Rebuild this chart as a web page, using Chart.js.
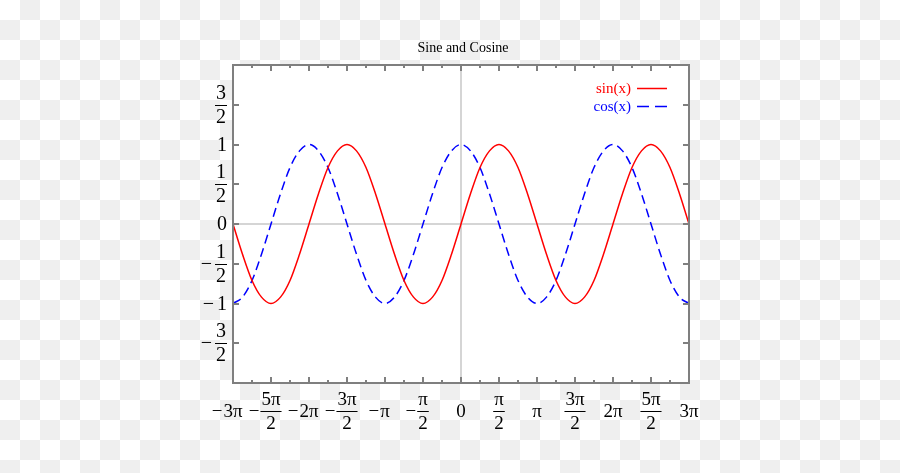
<!DOCTYPE html>
<html>
<head>
<meta charset="utf-8">
<script src="https://cdn.jsdelivr.net/npm/chart.js@4.4.1/dist/chart.umd.min.js"></script>
<style>
html,body{margin:0;padding:0;}
body{width:900px;height:473px;overflow:hidden;background:repeating-conic-gradient(#efefef 0 25%, #ffffff 0 50%) 0 0/40px 40px;}
#wrap{position:relative;width:900px;height:473px;}
canvas{display:block;}
</style>
</head>
<body>
<div id="wrap"><canvas id="c" width="900" height="473"></canvas></div>
<script>
// x positions in multiples of pi
const xPi = [-3,-2.875,-2.75,-2.625,-2.5,-2.375,-2.25,-2.125,-2,-1.875,-1.75,-1.625,-1.5,-1.375,-1.25,-1.125,-1,-0.875,-0.75,-0.625,-0.5,-0.375,-0.25,-0.125,0,0.125,0.25,0.375,0.5,0.625,0.75,0.875,1,1.125,1.25,1.375,1.5,1.625,1.75,1.875,2,2.125,2.25,2.375,2.5,2.625,2.75,2.875,3];
const sinValues = [0,-0.38,-0.71,-0.92,-1,-0.92,-0.71,-0.38,0,0.38,0.71,0.92,1,0.92,0.71,0.38,0,-0.38,-0.71,-0.92,-1,-0.92,-0.71,-0.38,0,0.38,0.71,0.92,1,0.92,0.71,0.38,0,-0.38,-0.71,-0.92,-1,-0.92,-0.71,-0.38,0,0.38,0.71,0.92,1,0.92,0.71,0.38,0];
const cosValues = [-1,-0.92,-0.71,-0.38,0,0.38,0.71,0.92,1,0.92,0.71,0.38,0,-0.38,-0.71,-0.92,-1,-0.92,-0.71,-0.38,0,0.38,0.71,0.92,1,0.92,0.71,0.38,0,-0.38,-0.71,-0.92,-1,-0.92,-0.71,-0.38,0,0.38,0.71,0.92,1,0.92,0.71,0.38,0,-0.38,-0.71,-0.92,-1];
const seriesNames = ['sin(x)','cos(x)'];

const xTickValues = [-3,-2.75,-2.5,-2.25,-2,-1.75,-1.5,-1.25,-1,-0.75,-0.5,-0.25,0,0.25,0.5,0.75,1,1.25,1.5,1.75,2,2.25,2.5,2.75,3];
const xLabelValues = [-3,-2.5,-2,-1.5,-1,-0.5,0,0.5,1,1.5,2,2.5,3];
const xLabels = ['−3π','−5π/2','−2π','−3π/2','−π','−π/2','0','π/2','π','3π/2','2π','5π/2','3π'];
const yTickValues = [-1.5,-1,-0.5,0,0.5,1,1.5];
const yLabels = ['−3/2','−1','−1/2','0','1/2','1','3/2'];
const chartTitle = 'Sine and Cosine';

const SERIF = '"Liberation Serif", "DejaVu Serif", serif';

function drawLabel(ctx, text, px, py, mode, fs, gap) {
  let sign = '';
  let body = text;
  if (body.startsWith('−')) { sign = '−'; body = body.slice(1); }
  ctx.font = fs + 'px ' + SERIF;
  ctx.fillStyle = '#000';
  ctx.textBaseline = 'alphabetic';
  let left, right;
  if (body.includes('/')) {
    const [num, den] = body.split('/');
    const wN = ctx.measureText(num).width, wD = ctx.measureText(den).width;
    const w = Math.max(wN, wD) + 2;
    let cx = mode === 'x' ? px : px - w / 2;
    left = cx - w / 2; right = cx + w / 2;
    ctx.textAlign = 'center';
    ctx.fillText(num, cx, py - 6);
    ctx.fillText(den, cx, py + 18);
    ctx.strokeStyle = '#000';
    ctx.lineWidth = 1;
    ctx.beginPath();
    ctx.moveTo(left, Math.round(py) + 0.5);
    ctx.lineTo(right, Math.round(py) + 0.5);
    ctx.stroke();
  } else {
    const w = ctx.measureText(body).width;
    let cx = mode === 'x' ? px : px - w / 2;
    left = cx - w / 2; right = cx + w / 2;
    ctx.textAlign = 'center';
    ctx.fillText(body, cx, py + 6);
  }
  if (sign) {
    ctx.textAlign = 'right';
    ctx.fillText(sign, left - gap, py + 6);
  }
}

const decorPlugin = {
  id: 'decor',
  beforeDraw(chart) {
    const {ctx, chartArea: a} = chart;
    ctx.save();
    ctx.fillStyle = '#ffffff';
    ctx.fillRect(a.left, a.top, a.right - a.left, a.bottom - a.top);
    ctx.restore();
  },
  beforeDatasetsDraw(chart) {
    const {ctx, chartArea: a, scales: {x, y}} = chart;
    ctx.save();
    ctx.strokeStyle = '#c8c8c8';
    ctx.lineWidth = 1.5;
    const x0 = x.getPixelForValue(0), y0 = y.getPixelForValue(0);
    ctx.beginPath();
    ctx.moveTo(x0, a.top); ctx.lineTo(x0, a.bottom);
    ctx.moveTo(a.left, y0); ctx.lineTo(a.right, y0);
    ctx.stroke();
    ctx.restore();
  },
  afterDatasetsDraw(chart) {
    const {ctx, chartArea: a, scales: {x, y}} = chart;
    ctx.save();
    ctx.strokeStyle = '#7f7f7f';
    ctx.lineWidth = 2;
    ctx.strokeRect(a.left, a.top, a.right - a.left, a.bottom - a.top);
    ctx.beginPath();
    xTickValues.forEach(v => {
      const px = Math.round(x.getPixelForValue(v));
      const len = (Math.abs(v * 2 - Math.round(v * 2)) < 1e-9) ? 6 : 3;
      ctx.moveTo(px, a.bottom); ctx.lineTo(px, a.bottom - len);
      ctx.moveTo(px, a.top); ctx.lineTo(px, a.top + len);
    });
    yTickValues.forEach(v => {
      const py = Math.round(y.getPixelForValue(v));
      ctx.moveTo(a.left, py); ctx.lineTo(a.left + 6, py);
      ctx.moveTo(a.right, py); ctx.lineTo(a.right - 6, py);
    });
    ctx.stroke();
    xLabelValues.forEach((v, i) => {
      drawLabel(ctx, xLabels[i], x.getPixelForValue(v), 411, 'x', 19, 1);
    });
    yTickValues.forEach((v, i) => {
      drawLabel(ctx, yLabels[i], a.left - 6, y.getPixelForValue(v), 'y', 20, 3);
    });
    ctx.font = '14px ' + SERIF;
    ctx.fillStyle = '#000';
    ctx.textAlign = 'center';
    ctx.textBaseline = 'alphabetic';
    ctx.fillText(chartTitle, (a.left + a.right) / 2 + 2, 52);
    const ds = chart.data.datasets;
    const legY = [88.5, 106.5];
    ds.forEach((d, i) => {
      ctx.font = '15px ' + SERIF;
      ctx.fillStyle = d.borderColor;
      ctx.textAlign = 'right';
      ctx.fillText(d.label, 631, legY[i] + 4.5);
      ctx.strokeStyle = d.borderColor;
      ctx.lineWidth = 1.5;
      ctx.setLineDash(i === 1 ? [12, 6] : []);
      ctx.beginPath();
      ctx.moveTo(637, legY[i]); ctx.lineTo(667, legY[i]);
      ctx.stroke();
      ctx.setLineDash([]);
    });
    ctx.restore();
  }
};

new Chart(document.getElementById('c'), {
  type: 'line',
  data: {
    datasets: [
      {
        label: seriesNames[0],
        data: xPi.map((v, i) => ({x: v, y: sinValues[i]})),
        borderColor: '#ff0000',
        borderWidth: 1.5,
        pointRadius: 0,
        fill: false,
        cubicInterpolationMode: 'monotone'
      },
      {
        label: seriesNames[1],
        data: xPi.map((v, i) => ({x: v, y: cosValues[i]})),
        borderColor: '#0000ff',
        borderWidth: 1.5,
        borderDash: [9, 5],
        pointRadius: 0,
        fill: false,
        cubicInterpolationMode: 'monotone'
      }
    ]
  },
  options: {
    responsive: false,
    animation: false,
    layout: {padding: {left: 233, top: 65, right: 211, bottom: 90}},
    scales: {
      x: {type: 'linear', min: -3, max: 3, display: false},
      y: {type: 'linear', min: -2, max: 2, display: false}
    },
    plugins: {
      legend: {display: false},
      title: {display: false},
      tooltip: {enabled: false}
    }
  },
  plugins: [decorPlugin]
});
</script>
</body>
</html>
